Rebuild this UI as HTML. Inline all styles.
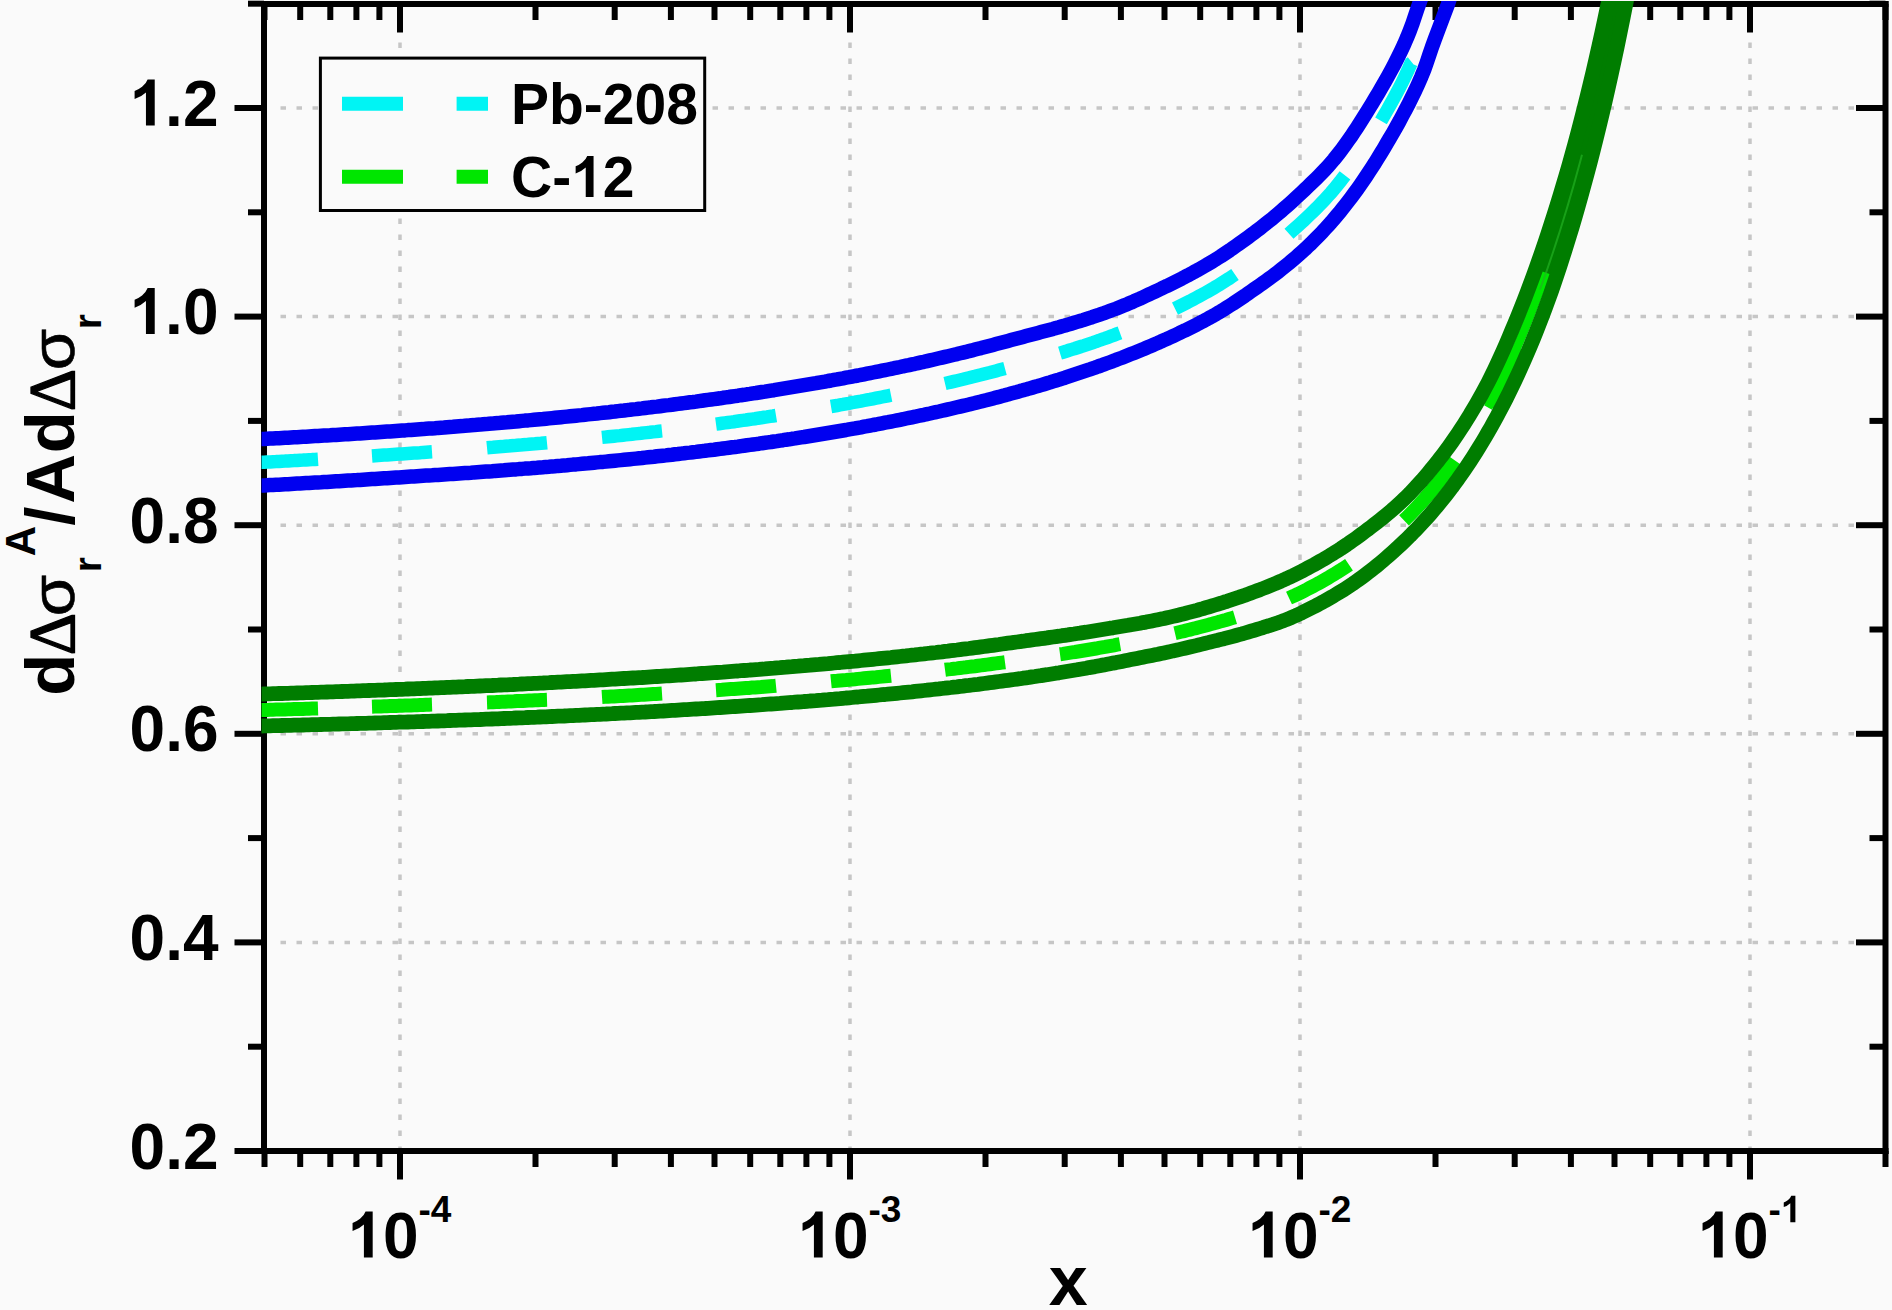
<!DOCTYPE html>
<html><head><meta charset="utf-8"><title>chart</title>
<style>html,body{margin:0;padding:0;background:#fafafa;}body{width:1892px;height:1310px;overflow:hidden;font-family:"Liberation Sans",sans-serif;}</style>
</head><body>
<svg width="1892" height="1310" viewBox="0 0 1892 1310" style="display:block">
<rect width="1892" height="1310" fill="#fafafa"/>
<defs><clipPath id="cp"><rect x="261.5" y="1.0" width="1626.5" height="1150.0"/></clipPath>
<path id="g1" d="M806,0 H525 V1059 Q371,915 162,846 V1101 Q272,1137 401,1237.5 Q530,1338 578,1472 H806 Z"/>
</defs>
<g stroke="#c6c6c6" stroke-width="3.5" fill="none">
<path d="M280.5,942.4 H1885.5" stroke-dasharray="5.5 10.5"/>
<path d="M280.5,733.8 H1885.5" stroke-dasharray="5.5 10.5"/>
<path d="M280.5,525.2 H1885.5" stroke-dasharray="5.5 10.5"/>
<path d="M280.5,316.6 H1885.5" stroke-dasharray="5.5 10.5"/>
<path d="M280.5,108.0 H1885.5" stroke-dasharray="5.5 10.5"/>
<path d="M400.0,42.5 V1151.0" stroke-dasharray="5.5 10.5"/>
<path d="M850.0,42.5 V1151.0" stroke-dasharray="5.5 10.5"/>
<path d="M1300.0,42.5 V1151.0" stroke-dasharray="5.5 10.5"/>
<path d="M1750.0,42.5 V1151.0" stroke-dasharray="5.5 10.5"/>
</g>
<g stroke="#000" stroke-width="6.0" fill="none" stroke-linecap="butt">
<path d="M264.0,1.0 V1154.0"/>
<path d="M1885.5,1.0 V1154.0"/>
<path d="M261.0,4.0 H1888.5"/>
<path d="M261.0,1151.0 H1888.5"/>
<path d="M234.5,1151.0 H264.0"/>
<path d="M1856.0,1151.0 H1885.5"/>
<path d="M248.0,1046.7 H264.0"/>
<path d="M1869.5,1046.7 H1885.5"/>
<path d="M234.5,942.4 H264.0"/>
<path d="M1856.0,942.4 H1885.5"/>
<path d="M248.0,838.1 H264.0"/>
<path d="M1869.5,838.1 H1885.5"/>
<path d="M234.5,733.8 H264.0"/>
<path d="M1856.0,733.8 H1885.5"/>
<path d="M248.0,629.5 H264.0"/>
<path d="M1869.5,629.5 H1885.5"/>
<path d="M234.5,525.2 H264.0"/>
<path d="M1856.0,525.2 H1885.5"/>
<path d="M248.0,420.9 H264.0"/>
<path d="M1869.5,420.9 H1885.5"/>
<path d="M234.5,316.6 H264.0"/>
<path d="M1856.0,316.6 H1885.5"/>
<path d="M248.0,212.3 H264.0"/>
<path d="M1869.5,212.3 H1885.5"/>
<path d="M234.5,108.0 H264.0"/>
<path d="M1856.0,108.0 H1885.5"/>
<path d="M248.0,3.7 H264.0"/>
<path d="M1869.5,3.7 H1885.5"/>
<path d="M264.5,1151.0 V1167.0"/>
<path d="M264.5,4.0 V20.0"/>
<path d="M300.2,1151.0 V1167.0"/>
<path d="M300.2,4.0 V20.0"/>
<path d="M330.3,1151.0 V1167.0"/>
<path d="M330.3,4.0 V20.0"/>
<path d="M356.4,1151.0 V1167.0"/>
<path d="M356.4,4.0 V20.0"/>
<path d="M379.4,1151.0 V1167.0"/>
<path d="M379.4,4.0 V20.0"/>
<path d="M400.0,1151.0 V1179.5"/>
<path d="M400.0,4.0 V32.5"/>
<path d="M535.5,1151.0 V1167.0"/>
<path d="M535.5,4.0 V20.0"/>
<path d="M614.7,1151.0 V1167.0"/>
<path d="M614.7,4.0 V20.0"/>
<path d="M670.9,1151.0 V1167.0"/>
<path d="M670.9,4.0 V20.0"/>
<path d="M714.5,1151.0 V1167.0"/>
<path d="M714.5,4.0 V20.0"/>
<path d="M750.2,1151.0 V1167.0"/>
<path d="M750.2,4.0 V20.0"/>
<path d="M780.3,1151.0 V1167.0"/>
<path d="M780.3,4.0 V20.0"/>
<path d="M806.4,1151.0 V1167.0"/>
<path d="M806.4,4.0 V20.0"/>
<path d="M829.4,1151.0 V1167.0"/>
<path d="M829.4,4.0 V20.0"/>
<path d="M850.0,1151.0 V1179.5"/>
<path d="M850.0,4.0 V32.5"/>
<path d="M985.5,1151.0 V1167.0"/>
<path d="M985.5,4.0 V20.0"/>
<path d="M1064.7,1151.0 V1167.0"/>
<path d="M1064.7,4.0 V20.0"/>
<path d="M1120.9,1151.0 V1167.0"/>
<path d="M1120.9,4.0 V20.0"/>
<path d="M1164.5,1151.0 V1167.0"/>
<path d="M1164.5,4.0 V20.0"/>
<path d="M1200.2,1151.0 V1167.0"/>
<path d="M1200.2,4.0 V20.0"/>
<path d="M1230.3,1151.0 V1167.0"/>
<path d="M1230.3,4.0 V20.0"/>
<path d="M1256.4,1151.0 V1167.0"/>
<path d="M1256.4,4.0 V20.0"/>
<path d="M1279.4,1151.0 V1167.0"/>
<path d="M1279.4,4.0 V20.0"/>
<path d="M1300.0,1151.0 V1179.5"/>
<path d="M1300.0,4.0 V32.5"/>
<path d="M1435.5,1151.0 V1167.0"/>
<path d="M1435.5,4.0 V20.0"/>
<path d="M1514.7,1151.0 V1167.0"/>
<path d="M1514.7,4.0 V20.0"/>
<path d="M1570.9,1151.0 V1167.0"/>
<path d="M1570.9,4.0 V20.0"/>
<path d="M1614.5,1151.0 V1167.0"/>
<path d="M1614.5,4.0 V20.0"/>
<path d="M1650.2,1151.0 V1167.0"/>
<path d="M1650.2,4.0 V20.0"/>
<path d="M1680.3,1151.0 V1167.0"/>
<path d="M1680.3,4.0 V20.0"/>
<path d="M1706.4,1151.0 V1167.0"/>
<path d="M1706.4,4.0 V20.0"/>
<path d="M1729.4,1151.0 V1167.0"/>
<path d="M1729.4,4.0 V20.0"/>
<path d="M1750.0,1151.0 V1179.5"/>
<path d="M1750.0,4.0 V32.5"/>
<path d="M1885.5,1151.0 V1167.0"/>
<path d="M1885.5,4.0 V20.0"/>
</g>
<g stroke="#00f4f4" stroke-width="13.5" fill="none" stroke-linecap="butt" clip-path="url(#cp)"><path d="M258.0,462.5 L261.0,462.3 L264.0,462.2 L267.0,462.0 L270.0,461.9 L273.0,461.7 L276.0,461.6 L279.0,461.4 L282.0,461.2 L285.0,461.1 L288.0,460.9 L291.0,460.7 L294.0,460.6 L297.0,460.4 L300.0,460.2 L303.0,460.1 L306.0,459.9 L309.0,459.7 L312.0,459.6 L315.0,459.4 L318.0,459.2 L318.0,459.2"/><path d="M372.0,455.9 L375.0,455.7 L378.0,455.5 L381.0,455.3 L384.0,455.1 L387.0,454.9 L390.0,454.7 L393.0,454.5 L396.0,454.3 L399.0,454.1 L402.0,453.9 L405.0,453.7 L408.0,453.5 L411.0,453.3 L414.0,453.1 L417.0,452.9 L420.0,452.7 L423.0,452.4 L426.0,452.2 L429.0,452.0 L432.0,451.8 L432.0,451.8"/><path d="M487.0,447.8 L490.0,447.5 L493.0,447.3 L496.0,447.0 L499.0,446.8 L502.0,446.6 L505.0,446.3 L508.0,446.1 L511.0,445.8 L514.0,445.6 L517.0,445.3 L520.0,445.1 L523.0,444.8 L526.0,444.6 L529.0,444.3 L532.0,444.0 L535.0,443.8 L538.0,443.5 L541.0,443.3 L544.0,443.0 L547.0,442.7 L547.0,442.7"/><path d="M602.0,437.4 L605.0,437.1 L608.0,436.8 L611.0,436.5 L614.0,436.2 L617.0,435.9 L620.0,435.6 L623.0,435.2 L626.0,434.9 L629.0,434.6 L632.0,434.3 L635.0,433.9 L638.0,433.6 L641.0,433.3 L644.0,432.9 L647.0,432.6 L650.0,432.3 L653.0,431.9 L656.0,431.6 L659.0,431.2 L662.0,430.9 L662.0,430.9"/><path d="M716.0,424.1 L719.0,423.7 L722.0,423.3 L725.0,422.9 L728.0,422.5 L731.0,422.1 L734.0,421.7 L737.0,421.2 L740.0,420.8 L743.0,420.4 L746.0,420.0 L749.0,419.5 L752.0,419.1 L755.0,418.7 L758.0,418.2 L761.0,417.8 L764.0,417.3 L767.0,416.9 L770.0,416.4 L773.0,416.0 L776.0,415.5 L776.0,415.5"/><path d="M831.0,406.5 L834.0,406.0 L837.0,405.5 L840.0,404.9 L843.0,404.4 L846.0,403.8 L849.0,403.3 L852.0,402.7 L855.0,402.2 L858.0,401.6 L861.0,401.1 L864.0,400.5 L867.0,399.9 L870.0,399.4 L873.0,398.8 L876.0,398.2 L879.0,397.6 L882.0,397.0 L885.0,396.4 L888.0,395.8 L891.0,395.2 L891.0,395.2"/><path d="M945.0,383.5 L948.0,382.8 L951.0,382.1 L954.0,381.4 L957.0,380.7 L960.0,380.0 L963.0,379.3 L966.0,378.5 L969.0,377.8 L972.0,377.0 L975.0,376.3 L978.0,375.5 L981.0,374.8 L984.0,374.0 L987.0,373.2 L990.0,372.5 L993.0,371.7 L996.0,370.9 L999.0,370.1 L1002.0,369.3 L1005.0,368.5 L1005.0,368.5"/><path d="M1060.0,353.1 L1063.0,352.2 L1066.0,351.3 L1069.0,350.3 L1072.0,349.4 L1075.0,348.5 L1078.0,347.5 L1081.0,346.5 L1084.0,345.6 L1087.0,344.6 L1090.0,343.6 L1093.0,342.6 L1096.0,341.5 L1099.0,340.5 L1102.0,339.4 L1105.0,338.4 L1108.0,337.3 L1111.0,336.2 L1114.0,335.1 L1117.0,333.9 L1120.0,332.8 L1120.0,332.8"/><path d="M1175.0,308.6 L1178.0,307.1 L1181.0,305.6 L1184.0,304.1 L1187.0,302.6 L1190.0,301.1 L1193.0,299.5 L1196.0,297.9 L1199.0,296.3 L1202.0,294.7 L1205.0,293.0 L1208.0,291.3 L1211.0,289.6 L1214.0,287.9 L1217.0,286.1 L1220.0,284.2 L1223.0,282.4 L1226.0,280.4 L1229.0,278.5 L1232.0,276.5 L1235.0,274.5 L1235.0,274.5"/><path d="M1289.0,233.7 L1292.0,231.0 L1295.0,228.4 L1298.0,225.7 L1301.0,223.0 L1304.0,220.2 L1307.0,217.4 L1310.0,214.5 L1313.0,211.6 L1316.0,208.7 L1319.0,205.6 L1322.0,202.5 L1325.0,199.3 L1328.0,196.0 L1331.0,192.7 L1334.0,189.2 L1337.0,185.5 L1340.0,181.8 L1343.0,177.9 L1345.0,175.3"/><path d="M1381.0,120.8 L1384.0,115.7 L1387.0,110.5 L1390.0,105.2 L1393.0,99.8 L1396.0,94.3 L1399.0,88.6 L1402.0,82.7 L1405.0,76.6 L1408.0,70.2 L1411.0,63.3 L1412.0,62.5"/></g>
<g stroke="#00e600" stroke-width="14" fill="none" stroke-linecap="butt" clip-path="url(#cp)"><path d="M258.0,710.1 L261.0,710.0 L264.0,710.0 L267.0,709.9 L270.0,709.8 L273.0,709.7 L276.0,709.6 L279.0,709.6 L282.0,709.5 L285.0,709.4 L288.0,709.3 L291.0,709.2 L294.0,709.1 L297.0,709.1 L300.0,709.0 L303.0,708.9 L306.0,708.8 L309.0,708.7 L312.0,708.6 L315.0,708.5 L318.0,708.4 L318.0,708.4"/><path d="M372.0,706.7 L375.0,706.6 L378.0,706.5 L381.0,706.4 L384.0,706.3 L387.0,706.2 L390.0,706.1 L393.0,706.0 L396.0,705.9 L399.0,705.8 L402.0,705.7 L405.0,705.6 L408.0,705.5 L411.0,705.4 L414.0,705.3 L417.0,705.2 L420.0,705.1 L423.0,705.0 L426.0,704.8 L429.0,704.7 L432.0,704.6 L432.0,704.6"/><path d="M487.0,702.4 L490.0,702.3 L493.0,702.2 L496.0,702.1 L499.0,701.9 L502.0,701.8 L505.0,701.7 L508.0,701.5 L511.0,701.4 L514.0,701.3 L517.0,701.1 L520.0,701.0 L523.0,700.9 L526.0,700.7 L529.0,700.6 L532.0,700.5 L535.0,700.3 L538.0,700.2 L541.0,700.0 L544.0,699.9 L547.0,699.8 L547.0,699.8"/><path d="M602.0,697.0 L605.0,696.8 L608.0,696.7 L611.0,696.5 L614.0,696.4 L617.0,696.2 L620.0,696.0 L623.0,695.9 L626.0,695.7 L629.0,695.5 L632.0,695.4 L635.0,695.2 L638.0,695.0 L641.0,694.8 L644.0,694.7 L647.0,694.5 L650.0,694.3 L653.0,694.1 L656.0,694.0 L659.0,693.8 L662.0,693.6 L662.0,693.6"/><path d="M716.0,690.2 L719.0,690.0 L722.0,689.8 L725.0,689.5 L728.0,689.3 L731.0,689.1 L734.0,688.9 L737.0,688.7 L740.0,688.5 L743.0,688.3 L746.0,688.1 L749.0,687.9 L752.0,687.6 L755.0,687.4 L758.0,687.2 L761.0,687.0 L764.0,686.7 L767.0,686.5 L770.0,686.3 L773.0,686.1 L776.0,685.8 L776.0,685.8"/><path d="M831.0,681.3 L834.0,681.0 L837.0,680.8 L840.0,680.5 L843.0,680.2 L846.0,680.0 L849.0,679.7 L852.0,679.4 L855.0,679.2 L858.0,678.9 L861.0,678.6 L864.0,678.3 L867.0,678.0 L870.0,677.7 L873.0,677.4 L876.0,677.2 L879.0,676.9 L882.0,676.6 L885.0,676.3 L888.0,676.0 L891.0,675.7 L891.0,675.7"/><path d="M945.0,669.8 L948.0,669.4 L951.0,669.1 L954.0,668.7 L957.0,668.4 L960.0,668.0 L963.0,667.6 L966.0,667.3 L969.0,666.9 L972.0,666.5 L975.0,666.2 L978.0,665.8 L981.0,665.4 L984.0,665.0 L987.0,664.6 L990.0,664.2 L993.0,663.8 L996.0,663.4 L999.0,663.0 L1002.0,662.6 L1005.0,662.2 L1005.0,662.2"/><path d="M1060.0,654.3 L1063.0,653.9 L1066.0,653.4 L1069.0,652.9 L1072.0,652.4 L1075.0,652.0 L1078.0,651.5 L1081.0,651.0 L1084.0,650.5 L1087.0,650.0 L1090.0,649.5 L1093.0,649.0 L1096.0,648.5 L1099.0,647.9 L1102.0,647.4 L1105.0,646.9 L1108.0,646.3 L1111.0,645.8 L1114.0,645.3 L1117.0,644.7 L1120.0,644.2 L1120.0,644.2"/><path d="M1175.0,633.2 L1178.0,632.5 L1181.0,631.8 L1184.0,631.1 L1187.0,630.3 L1190.0,629.6 L1193.0,628.8 L1196.0,628.1 L1199.0,627.3 L1202.0,626.5 L1205.0,625.7 L1208.0,624.9 L1211.0,624.1 L1214.0,623.2 L1217.0,622.4 L1220.0,621.6 L1223.0,620.7 L1226.0,619.9 L1229.0,619.0 L1232.0,618.1 L1235.0,617.2 L1235.0,617.2"/><path d="M1289.0,598.0 L1292.0,596.6 L1295.0,595.3 L1298.0,593.9 L1301.0,592.4 L1304.0,590.9 L1307.0,589.4 L1310.0,587.8 L1313.0,586.2 L1316.0,584.6 L1319.0,583.0 L1322.0,581.3 L1325.0,579.6 L1328.0,577.9 L1331.0,576.1 L1334.0,574.3 L1337.0,572.4 L1340.0,570.6 L1343.0,568.7 L1346.0,566.7 L1349.0,564.7 L1349.0,564.7"/><path d="M1404.0,520.4 L1407.0,517.5 L1410.0,514.5 L1413.0,511.4 L1416.0,508.2 L1419.0,505.0 L1422.0,501.7 L1425.0,498.4 L1428.0,494.9 L1431.0,491.4 L1434.0,487.9 L1437.0,484.2 L1440.0,480.5 L1443.0,476.6 L1446.0,472.7 L1449.0,468.8 L1452.0,464.7 L1455.0,460.5 L1455.0,460.5"/><path d="M1489.0,405.6 L1492.0,400.0 L1495.0,394.2 L1498.0,388.2 L1501.0,382.1 L1504.0,375.8 L1507.0,369.4 L1510.0,362.8 L1513.0,356.2 L1516.0,349.4 L1517.0,347.2"/><path d="M1540.0,289.5 L1543.0,281.2 L1546.0,272.8 L1549.0,264.1 L1552.0,255.2 L1555.0,246.2 L1558.0,236.9 L1559.0,233.8"/><path d="M1576.0,176.7 L1579.0,165.9 L1582.0,154.7 L1585.0,143.3 L1588.0,131.7 L1591.0,119.7 L1591.0,119.7"/><path d="M1605.0,60.0 L1608.0,46.3 L1611.0,32.3 L1614.0,17.8 L1617.0,3.1 L1617.0,3.1"/><path d="M1628.0,-54.3 L1631.0,-70.9 L1634.0,-87.9 L1637.0,-105.3 L1638.0,-111.2"/></g>
<path d="M1540.0,289.5 L1542.0,284.0 L1544.0,278.4 L1546.0,272.8 L1548.0,267.0 L1550.0,261.2 L1552.0,255.2 L1554.0,249.2 L1556.0,243.1 L1558.0,236.9 L1560.0,230.7 L1562.0,224.3 L1564.0,217.8 L1566.0,211.2 L1568.0,204.6 L1570.0,197.8 L1572.0,190.9 L1574.0,183.9 L1576.0,176.7 L1578.0,169.5 L1580.0,162.2 L1582.0,154.7 L1584.0,147.2 L1586.0,139.5 L1588.0,131.7 L1590.0,123.7 L1592.0,115.7 L1594.0,107.5 L1596.0,99.2 L1598.0,90.7 L1600.0,82.1 L1602.0,73.4 L1604.0,64.5 L1606.0,55.5 L1608.0,46.3 L1610.0,37.0 L1612.0,27.5 L1614.0,17.8 L1616.0,8.0 L1618.0,-1.9 L1620.0,-12.1 L1622.0,-22.4 L1624.0,-32.8 L1626.0,-43.5 L1628.0,-54.3 L1630.0,-65.3 L1632.0,-76.5 L1634.0,-87.9 L1636.0,-99.5 L1638.0,-111.2 L1640.0,-123.2" stroke="#007d00" stroke-width="10" fill="none" clip-path="url(#cp)"/>
<path d="M1488.0,407.5 L1490.0,403.8 L1492.0,400.0 L1494.0,396.1 L1496.0,392.2 L1498.0,388.2 L1500.0,384.1 L1502.0,380.0 L1504.0,375.8 L1506.0,371.5 L1508.0,367.2 L1510.0,362.8 L1512.0,358.4 L1514.0,354.0 L1516.0,349.4 L1518.0,344.9 L1520.0,340.2 L1522.0,335.5 L1524.0,330.7 L1526.0,325.8 L1528.0,320.8 L1530.0,315.8 L1532.0,310.7 L1534.0,305.5 L1536.0,300.2 L1538.0,294.9 L1540.0,289.5 L1542.0,284.0 L1544.0,278.4 L1546.0,272.8" stroke="#00e600" stroke-width="9" fill="none" clip-path="url(#cp)"/>
<path d="M258.0,439.3 L261.0,439.1 L264.0,439.0 L267.0,438.8 L270.0,438.6 L273.0,438.5 L276.0,438.3 L279.0,438.2 L282.0,438.0 L285.0,437.8 L288.0,437.7 L291.0,437.5 L294.0,437.3 L297.0,437.2 L300.0,437.0 L303.0,436.8 L306.0,436.7 L309.0,436.5 L312.0,436.3 L315.0,436.1 L318.0,436.0 L321.0,435.8 L324.0,435.6 L327.0,435.4 L330.0,435.3 L333.0,435.1 L336.0,434.9 L339.0,434.7 L342.0,434.5 L345.0,434.3 L348.0,434.2 L351.0,434.0 L354.0,433.8 L357.0,433.6 L360.0,433.4 L363.0,433.2 L366.0,433.0 L369.0,432.8 L372.0,432.6 L375.0,432.4 L378.0,432.2 L381.0,432.0 L384.0,431.8 L387.0,431.6 L390.0,431.4 L393.0,431.2 L396.0,431.0 L399.0,430.8 L402.0,430.6 L405.0,430.4 L408.0,430.1 L411.0,429.9 L414.0,429.7 L417.0,429.5 L420.0,429.3 L423.0,429.1 L426.0,428.8 L429.0,428.6 L432.0,428.4 L435.0,428.2 L438.0,427.9 L441.0,427.7 L444.0,427.5 L447.0,427.2 L450.0,427.0 L453.0,426.8 L456.0,426.5 L459.0,426.3 L462.0,426.1 L465.0,425.8 L468.0,425.6 L471.0,425.3 L474.0,425.1 L477.0,424.8 L480.0,424.6 L483.0,424.3 L486.0,424.1 L489.0,423.8 L492.0,423.6 L495.0,423.3 L498.0,423.1 L501.0,422.8 L504.0,422.5 L507.0,422.3 L510.0,422.0 L513.0,421.7 L516.0,421.5 L519.0,421.2 L522.0,420.9 L525.0,420.6 L528.0,420.4 L531.0,420.1 L534.0,419.8 L537.0,419.5 L540.0,419.2 L543.0,419.0 L546.0,418.7 L549.0,418.4 L552.0,418.1 L555.0,417.8 L558.0,417.5 L561.0,417.2 L564.0,416.9 L567.0,416.6 L570.0,416.3 L573.0,416.0 L576.0,415.7 L579.0,415.4 L582.0,415.1 L585.0,414.7 L588.0,414.4 L591.0,414.1 L594.0,413.8 L597.0,413.5 L600.0,413.1 L603.0,412.8 L606.0,412.5 L609.0,412.2 L612.0,411.8 L615.0,411.5 L618.0,411.1 L621.0,410.8 L624.0,410.5 L627.0,410.1 L630.0,409.8 L633.0,409.4 L636.0,409.1 L639.0,408.7 L642.0,408.4 L645.0,408.0 L648.0,407.6 L651.0,407.3 L654.0,406.9 L657.0,406.6 L660.0,406.2 L663.0,405.8 L666.0,405.4 L669.0,405.1 L672.0,404.7 L675.0,404.3 L678.0,403.9 L681.0,403.5 L684.0,403.1 L687.0,402.7 L690.0,402.3 L693.0,402.0 L696.0,401.6 L699.0,401.1 L702.0,400.7 L705.0,400.3 L708.0,399.9 L711.0,399.5 L714.0,399.1 L717.0,398.7 L720.0,398.3 L723.0,397.8 L726.0,397.4 L729.0,397.0 L732.0,396.5 L735.0,396.1 L738.0,395.7 L741.0,395.2 L744.0,394.8 L747.0,394.3 L750.0,393.9 L753.0,393.4 L756.0,393.0 L759.0,392.5 L762.0,392.0 L765.0,391.6 L768.0,391.1 L771.0,390.6 L774.0,390.2 L777.0,389.7 L780.0,389.2 L783.0,388.7 L786.0,388.2 L789.0,387.7 L792.0,387.2 L795.0,386.7 L798.0,386.2 L801.0,385.7 L804.0,385.2 L807.0,384.7 L810.0,384.2 L813.0,383.7 L816.0,383.2 L819.0,382.6 L822.0,382.1 L825.0,381.6 L828.0,381.0 L831.0,380.5 L834.0,379.9 L837.0,379.4 L840.0,378.8 L843.0,378.3 L846.0,377.7 L849.0,377.2 L852.0,376.6 L855.0,376.0 L858.0,375.5 L861.0,374.9 L864.0,374.3 L867.0,373.7 L870.0,373.1 L873.0,372.5 L876.0,371.9 L879.0,371.3 L882.0,370.7 L885.0,370.1 L888.0,369.5 L891.0,368.9 L894.0,368.2 L897.0,367.6 L900.0,367.0 L903.0,366.3 L906.0,365.7 L909.0,365.1 L912.0,364.4 L915.0,363.8 L918.0,363.1 L921.0,362.4 L924.0,361.8 L927.0,361.1 L930.0,360.4 L933.0,359.7 L936.0,359.0 L939.0,358.3 L942.0,357.6 L945.0,356.9 L948.0,356.2 L951.0,355.5 L954.0,354.8 L957.0,354.1 L960.0,353.3 L963.0,352.6 L966.0,351.9 L969.0,351.1 L972.0,350.4 L975.0,349.6 L978.0,348.8 L981.0,348.1 L984.0,347.3 L987.0,346.5 L990.0,345.7 L993.0,344.9 L996.0,344.1 L999.0,343.3 L1002.0,342.5 L1005.0,341.7 L1008.0,340.9 L1011.0,340.1 L1014.0,339.3 L1017.0,338.5 L1020.0,337.7 L1023.0,336.9 L1026.0,336.1 L1029.0,335.3 L1032.0,334.5 L1035.0,333.7 L1038.0,332.9 L1041.0,332.1 L1044.0,331.3 L1047.0,330.5 L1050.0,329.7 L1053.0,328.9 L1056.0,328.0 L1059.0,327.2 L1062.0,326.3 L1065.0,325.5 L1068.0,324.6 L1071.0,323.7 L1074.0,322.8 L1077.0,321.9 L1080.0,321.0 L1083.0,320.1 L1086.0,319.1 L1089.0,318.1 L1092.0,317.2 L1095.0,316.2 L1098.0,315.2 L1101.0,314.1 L1104.0,313.1 L1107.0,312.0 L1110.0,310.9 L1113.0,309.8 L1116.0,308.7 L1119.0,307.5 L1122.0,306.3 L1125.0,305.1 L1128.0,303.8 L1131.0,302.6 L1134.0,301.2 L1137.0,299.9 L1140.0,298.6 L1143.0,297.2 L1146.0,295.8 L1149.0,294.4 L1152.0,293.0 L1155.0,291.6 L1158.0,290.2 L1161.0,288.8 L1164.0,287.3 L1167.0,285.9 L1170.0,284.4 L1173.0,282.9 L1176.0,281.4 L1179.0,279.9 L1182.0,278.4 L1185.0,276.8 L1188.0,275.3 L1191.0,273.7 L1194.0,272.0 L1197.0,270.4 L1200.0,268.7 L1203.0,267.0 L1206.0,265.3 L1209.0,263.5 L1212.0,261.7 L1215.0,259.9 L1218.0,258.0 L1221.0,256.1 L1224.0,254.1 L1227.0,252.1 L1230.0,250.1 L1233.0,248.0 L1236.0,245.9 L1239.0,243.8 L1242.0,241.6 L1245.0,239.5 L1248.0,237.3 L1251.0,235.0 L1254.0,232.8 L1257.0,230.5 L1260.0,228.3 L1263.0,225.9 L1266.0,223.6 L1269.0,221.2 L1272.0,218.8 L1275.0,216.3 L1278.0,213.8 L1281.0,211.2 L1284.0,208.6 L1287.0,206.0 L1290.0,203.3 L1293.0,200.6 L1296.0,197.8 L1299.0,195.0 L1302.0,192.2 L1305.0,189.4 L1307.9,186.6 L1310.8,183.8 L1313.7,181.0 L1316.6,178.2 L1319.4,175.4 L1322.3,172.4 L1325.2,169.4 L1328.0,166.3 L1330.9,163.0 L1333.8,159.6 L1336.6,156.1 L1339.6,152.4 L1342.5,148.5 L1345.4,144.5 L1348.3,140.4 L1351.3,136.2 L1354.2,131.8 L1357.1,127.4 L1360.1,122.8 L1363.0,118.2 L1366.0,113.4 L1369.0,108.5 L1372.1,103.4 L1375.2,98.2 L1378.4,92.9 L1381.6,87.4 L1384.8,81.8 L1388.1,76.0 L1391.3,70.1 L1394.6,64.0 L1397.7,57.7 L1400.9,51.2 L1404.0,44.6 L1407.0,37.7 L1409.8,30.7 L1412.5,23.5 L1415.0,16.0 L1417.6,8.3 L1420.4,0.4 L1423.4,-7.7 L1426.4,-16.1 L1429.4,-24.8" stroke="#0000f0" stroke-width="14.5" fill="none" stroke-linejoin="round" clip-path="url(#cp)"/>
<path d="M258.0,485.7 L261.0,485.6 L264.0,485.5 L267.0,485.3 L270.0,485.1 L273.0,485.0 L276.0,484.8 L279.0,484.7 L282.0,484.5 L285.0,484.3 L288.0,484.2 L291.0,484.0 L294.0,483.8 L297.0,483.6 L300.0,483.5 L303.0,483.3 L306.0,483.1 L309.0,483.0 L312.0,482.8 L315.0,482.6 L318.0,482.4 L321.0,482.3 L324.0,482.1 L327.0,481.9 L330.0,481.7 L333.0,481.5 L336.0,481.3 L339.0,481.2 L342.0,481.0 L345.0,480.8 L348.0,480.6 L351.0,480.4 L354.0,480.2 L357.0,480.1 L360.0,479.9 L363.0,479.7 L366.0,479.5 L369.0,479.3 L372.0,479.1 L375.0,478.9 L378.0,478.7 L381.0,478.5 L384.0,478.3 L387.0,478.2 L390.0,478.0 L393.0,477.8 L396.0,477.6 L399.0,477.4 L402.0,477.2 L405.0,477.0 L408.0,476.8 L411.0,476.6 L414.0,476.4 L417.0,476.2 L420.0,476.0 L423.0,475.8 L426.0,475.6 L429.0,475.4 L432.0,475.3 L435.0,475.1 L438.0,474.9 L441.0,474.7 L444.0,474.5 L447.0,474.3 L450.0,474.1 L453.0,473.9 L456.0,473.7 L459.0,473.5 L462.0,473.3 L465.0,473.1 L468.0,472.9 L471.0,472.7 L474.0,472.4 L477.0,472.2 L480.0,472.0 L483.0,471.8 L486.0,471.6 L489.0,471.4 L492.0,471.2 L495.0,470.9 L498.0,470.7 L501.0,470.5 L504.0,470.3 L507.0,470.0 L510.0,469.8 L513.0,469.6 L516.0,469.4 L519.0,469.1 L522.0,468.9 L525.0,468.6 L528.0,468.4 L531.0,468.2 L534.0,467.9 L537.0,467.7 L540.0,467.4 L543.0,467.2 L546.0,466.9 L549.0,466.7 L552.0,466.4 L555.0,466.2 L558.0,465.9 L561.0,465.7 L564.0,465.4 L567.0,465.2 L570.0,464.9 L573.0,464.6 L576.0,464.4 L579.0,464.1 L582.0,463.8 L585.0,463.5 L588.0,463.3 L591.0,463.0 L594.0,462.7 L597.0,462.4 L600.0,462.1 L603.0,461.9 L606.0,461.6 L609.0,461.3 L612.0,461.0 L615.0,460.7 L618.0,460.4 L621.0,460.1 L624.0,459.8 L627.0,459.5 L630.0,459.2 L633.0,458.9 L636.0,458.6 L639.0,458.3 L642.0,458.0 L645.0,457.6 L648.0,457.3 L651.0,457.0 L654.0,456.7 L657.0,456.3 L660.0,456.0 L663.0,455.7 L666.0,455.4 L669.0,455.0 L672.0,454.7 L675.0,454.3 L678.0,454.0 L681.0,453.6 L684.0,453.3 L687.0,452.9 L690.0,452.6 L693.0,452.2 L696.0,451.9 L699.0,451.5 L702.0,451.1 L705.0,450.8 L708.0,450.4 L711.0,450.0 L714.0,449.7 L717.0,449.3 L720.0,448.9 L723.0,448.5 L726.0,448.1 L729.0,447.7 L732.0,447.3 L735.0,447.0 L738.0,446.6 L741.0,446.1 L744.0,445.7 L747.0,445.3 L750.0,444.9 L753.0,444.5 L756.0,444.1 L759.0,443.7 L762.0,443.2 L765.0,442.8 L768.0,442.4 L771.0,442.0 L774.0,441.5 L777.0,441.1 L780.0,440.6 L783.0,440.2 L786.0,439.7 L789.0,439.3 L792.0,438.8 L795.0,438.4 L798.0,437.9 L801.0,437.4 L804.0,437.0 L807.0,436.5 L810.0,436.0 L813.0,435.5 L816.0,435.0 L819.0,434.5 L822.0,434.0 L825.0,433.5 L828.0,433.0 L831.0,432.5 L834.0,432.0 L837.0,431.5 L840.0,431.0 L843.0,430.5 L846.0,430.0 L849.0,429.4 L852.0,428.9 L855.0,428.4 L858.0,427.8 L861.0,427.3 L864.0,426.7 L867.0,426.2 L870.0,425.6 L873.0,425.0 L876.0,424.5 L879.0,423.9 L882.0,423.3 L885.0,422.7 L888.0,422.2 L891.0,421.6 L894.0,421.0 L897.0,420.4 L900.0,419.8 L903.0,419.2 L906.0,418.5 L909.0,417.9 L912.0,417.3 L915.0,416.7 L918.0,416.0 L921.0,415.4 L924.0,414.8 L927.0,414.1 L930.0,413.5 L933.0,412.8 L936.0,412.1 L939.0,411.5 L942.0,410.8 L945.0,410.1 L948.0,409.4 L951.0,408.7 L954.0,408.0 L957.0,407.3 L960.0,406.6 L963.0,405.9 L966.0,405.2 L969.0,404.5 L972.0,403.7 L975.0,403.0 L978.0,402.2 L981.0,401.5 L984.0,400.7 L987.0,400.0 L990.0,399.2 L993.0,398.4 L996.0,397.6 L999.0,396.9 L1002.0,396.1 L1005.0,395.3 L1008.0,394.4 L1011.0,393.6 L1014.0,392.8 L1017.0,392.0 L1020.0,391.1 L1023.0,390.3 L1026.0,389.4 L1029.0,388.6 L1032.0,387.7 L1035.0,386.8 L1038.0,386.0 L1041.0,385.1 L1044.0,384.2 L1047.0,383.3 L1050.0,382.4 L1053.0,381.4 L1056.0,380.5 L1059.0,379.6 L1062.0,378.6 L1065.0,377.7 L1068.0,376.7 L1071.0,375.7 L1074.0,374.7 L1077.0,373.7 L1080.0,372.7 L1083.0,371.7 L1086.0,370.7 L1089.0,369.7 L1092.0,368.6 L1095.0,367.6 L1098.0,366.5 L1101.0,365.5 L1104.0,364.4 L1107.0,363.3 L1110.0,362.2 L1113.0,361.1 L1116.0,359.9 L1119.0,358.8 L1122.0,357.7 L1125.0,356.5 L1128.0,355.3 L1131.0,354.1 L1134.0,352.9 L1137.0,351.7 L1140.0,350.5 L1143.0,349.3 L1146.0,348.0 L1149.0,346.7 L1152.0,345.5 L1155.0,344.2 L1158.0,342.9 L1161.0,341.5 L1164.0,340.2 L1167.0,338.9 L1170.0,337.5 L1173.0,336.1 L1176.0,334.7 L1179.0,333.3 L1182.0,331.8 L1185.0,330.4 L1188.0,328.9 L1191.0,327.4 L1194.0,325.9 L1197.0,324.4 L1200.0,322.8 L1203.0,321.3 L1206.0,319.7 L1209.0,318.0 L1212.0,316.4 L1215.0,314.7 L1218.0,312.9 L1221.0,311.2 L1224.0,309.3 L1227.0,307.4 L1230.0,305.5 L1233.0,303.6 L1236.0,301.6 L1239.0,299.6 L1242.0,297.6 L1245.0,295.6 L1248.0,293.5 L1251.0,291.4 L1254.0,289.3 L1257.0,287.2 L1260.0,285.1 L1263.0,283.0 L1266.0,280.9 L1269.0,278.7 L1272.0,276.5 L1275.0,274.2 L1278.0,271.9 L1281.0,269.6 L1284.0,267.2 L1287.0,264.7 L1290.0,262.3 L1293.0,259.7 L1296.0,257.2 L1299.0,254.6 L1302.0,251.9 L1305.0,249.2 L1307.9,246.4 L1310.9,243.6 L1313.8,240.7 L1316.8,237.7 L1319.7,234.7 L1322.6,231.7 L1325.5,228.5 L1328.4,225.3 L1331.3,222.1 L1334.2,218.7 L1337.1,215.3 L1340.0,211.8 L1342.8,208.3 L1345.7,204.6 L1348.6,200.9 L1351.5,197.1 L1354.4,193.2 L1357.3,189.2 L1360.2,185.1 L1363.1,180.9 L1366.0,176.6 L1369.0,172.1 L1371.9,167.6 L1374.9,163.0 L1377.8,158.3 L1380.8,153.4 L1383.8,148.4 L1386.8,143.3 L1389.9,138.0 L1393.1,132.6 L1396.2,127.1 L1399.4,121.4 L1402.5,115.5 L1405.7,109.5 L1408.9,103.3 L1412.0,97.0 L1415.2,90.5 L1418.3,83.7 L1421.3,76.8 L1424.2,69.7 L1426.8,62.4 L1429.3,54.9 L1431.9,47.2 L1434.8,39.2 L1437.9,31.0 L1441.1,22.5 L1444.4,13.8 L1447.7,4.9 L1450.7,-4.4 L1453.7,-13.9 L1456.7,-23.7 L1459.7,-33.9" stroke="#0000f0" stroke-width="14.5" fill="none" stroke-linejoin="round" clip-path="url(#cp)"/>
<path d="M258.0,694.2 L261.0,694.1 L264.0,694.0 L267.0,693.9 L270.0,693.8 L273.0,693.7 L276.0,693.6 L279.0,693.5 L282.0,693.5 L285.0,693.4 L288.0,693.3 L291.0,693.2 L294.0,693.1 L297.0,693.0 L300.0,692.9 L303.0,692.8 L306.0,692.7 L309.0,692.6 L312.0,692.5 L315.0,692.4 L318.0,692.3 L321.0,692.2 L324.0,692.1 L327.0,692.0 L330.0,691.9 L333.0,691.8 L336.0,691.7 L339.0,691.6 L342.0,691.5 L345.0,691.4 L348.0,691.3 L351.0,691.2 L354.0,691.1 L357.0,690.9 L360.0,690.8 L363.0,690.7 L366.0,690.6 L369.0,690.5 L372.0,690.4 L375.0,690.3 L378.0,690.2 L381.0,690.1 L384.0,690.0 L387.0,689.8 L390.0,689.7 L393.0,689.6 L396.0,689.5 L399.0,689.4 L402.0,689.3 L405.0,689.2 L408.0,689.0 L411.0,688.9 L414.0,688.8 L417.0,688.7 L420.0,688.6 L423.0,688.4 L426.0,688.3 L429.0,688.2 L432.0,688.1 L435.0,687.9 L438.0,687.8 L441.0,687.7 L444.0,687.6 L447.0,687.4 L450.0,687.3 L453.0,687.2 L456.0,687.1 L459.0,686.9 L462.0,686.8 L465.0,686.7 L468.0,686.5 L471.0,686.4 L474.0,686.3 L477.0,686.1 L480.0,686.0 L483.0,685.9 L486.0,685.7 L489.0,685.6 L492.0,685.5 L495.0,685.3 L498.0,685.2 L501.0,685.0 L504.0,684.9 L507.0,684.8 L510.0,684.6 L513.0,684.5 L516.0,684.3 L519.0,684.2 L522.0,684.0 L525.0,683.9 L528.0,683.7 L531.0,683.6 L534.0,683.4 L537.0,683.3 L540.0,683.1 L543.0,683.0 L546.0,682.8 L549.0,682.7 L552.0,682.5 L555.0,682.4 L558.0,682.2 L561.0,682.1 L564.0,681.9 L567.0,681.7 L570.0,681.6 L573.0,681.4 L576.0,681.3 L579.0,681.1 L582.0,680.9 L585.0,680.8 L588.0,680.6 L591.0,680.4 L594.0,680.3 L597.0,680.1 L600.0,679.9 L603.0,679.8 L606.0,679.6 L609.0,679.4 L612.0,679.2 L615.0,679.1 L618.0,678.9 L621.0,678.7 L624.0,678.5 L627.0,678.4 L630.0,678.2 L633.0,678.0 L636.0,677.8 L639.0,677.6 L642.0,677.5 L645.0,677.3 L648.0,677.1 L651.0,676.9 L654.0,676.7 L657.0,676.5 L660.0,676.3 L663.0,676.1 L666.0,675.9 L669.0,675.8 L672.0,675.6 L675.0,675.4 L678.0,675.2 L681.0,675.0 L684.0,674.8 L687.0,674.6 L690.0,674.4 L693.0,674.2 L696.0,674.0 L699.0,673.7 L702.0,673.5 L705.0,673.3 L708.0,673.1 L711.0,672.9 L714.0,672.7 L717.0,672.5 L720.0,672.3 L723.0,672.1 L726.0,671.8 L729.0,671.6 L732.0,671.4 L735.0,671.2 L738.0,671.0 L741.0,670.7 L744.0,670.5 L747.0,670.3 L750.0,670.0 L753.0,669.8 L756.0,669.6 L759.0,669.4 L762.0,669.1 L765.0,668.9 L768.0,668.6 L771.0,668.4 L774.0,668.2 L777.0,667.9 L780.0,667.7 L783.0,667.4 L786.0,667.2 L789.0,666.9 L792.0,666.7 L795.0,666.4 L798.0,666.2 L801.0,665.9 L804.0,665.7 L807.0,665.4 L810.0,665.2 L813.0,664.9 L816.0,664.6 L819.0,664.4 L822.0,664.1 L825.0,663.8 L828.0,663.6 L831.0,663.3 L834.0,663.0 L837.0,662.7 L840.0,662.5 L843.0,662.2 L846.0,661.9 L849.0,661.6 L852.0,661.3 L855.0,661.1 L858.0,660.8 L861.0,660.5 L864.0,660.2 L867.0,659.9 L870.0,659.6 L873.0,659.3 L876.0,659.0 L879.0,658.7 L882.0,658.4 L885.0,658.1 L888.0,657.8 L891.0,657.5 L894.0,657.1 L897.0,656.8 L900.0,656.5 L903.0,656.2 L906.0,655.9 L909.0,655.5 L912.0,655.2 L915.0,654.9 L918.0,654.5 L921.0,654.2 L924.0,653.9 L927.0,653.5 L930.0,653.2 L933.0,652.8 L936.0,652.5 L939.0,652.1 L942.0,651.8 L945.0,651.4 L948.0,651.1 L951.0,650.7 L954.0,650.3 L957.0,650.0 L960.0,649.6 L963.0,649.2 L966.0,648.8 L969.0,648.5 L972.0,648.1 L975.0,647.7 L978.0,647.3 L981.0,646.9 L984.0,646.5 L987.0,646.1 L990.0,645.7 L993.0,645.3 L996.0,644.9 L999.0,644.5 L1002.0,644.0 L1005.0,643.6 L1008.0,643.2 L1011.0,642.8 L1014.0,642.4 L1017.0,642.0 L1020.0,641.6 L1023.0,641.2 L1026.0,640.7 L1029.0,640.3 L1032.0,639.9 L1035.0,639.5 L1038.0,639.1 L1041.0,638.7 L1044.0,638.3 L1047.0,637.9 L1050.0,637.4 L1053.0,637.0 L1056.0,636.6 L1059.0,636.2 L1062.0,635.7 L1065.0,635.3 L1068.0,634.9 L1071.0,634.4 L1074.0,634.0 L1077.0,633.5 L1080.0,633.1 L1083.0,632.6 L1086.0,632.2 L1089.0,631.7 L1092.0,631.2 L1095.0,630.7 L1098.0,630.2 L1101.0,629.7 L1104.0,629.2 L1107.0,628.7 L1110.0,628.2 L1113.0,627.8 L1116.0,627.3 L1119.0,626.8 L1122.0,626.3 L1125.0,625.8 L1128.0,625.3 L1131.0,624.7 L1134.0,624.2 L1137.0,623.7 L1140.0,623.2 L1143.0,622.6 L1146.0,622.1 L1149.0,621.5 L1152.0,620.9 L1155.0,620.3 L1158.0,619.7 L1161.0,619.1 L1164.0,618.5 L1167.0,617.8 L1170.0,617.1 L1173.0,616.4 L1176.0,615.7 L1179.0,615.0 L1182.0,614.2 L1185.0,613.5 L1188.0,612.7 L1191.0,611.9 L1194.0,611.1 L1197.0,610.3 L1200.0,609.4 L1203.0,608.6 L1206.0,607.7 L1209.0,606.8 L1212.0,605.9 L1215.0,605.0 L1218.0,604.1 L1221.0,603.2 L1224.0,602.2 L1227.0,601.3 L1230.0,600.3 L1233.0,599.3 L1236.0,598.3 L1239.0,597.3 L1242.0,596.2 L1245.0,595.2 L1248.0,594.1 L1251.0,593.0 L1254.0,591.9 L1257.0,590.8 L1260.0,589.7 L1263.0,588.5 L1266.0,587.3 L1269.0,586.1 L1272.0,584.9 L1275.0,583.7 L1278.0,582.4 L1281.0,581.1 L1284.0,579.7 L1287.0,578.4 L1290.0,577.0 L1293.0,575.6 L1296.0,574.1 L1299.0,572.6 L1302.0,571.1 L1305.0,569.5 L1308.0,567.9 L1311.0,566.3 L1314.0,564.7 L1317.0,563.0 L1320.0,561.3 L1323.0,559.6 L1326.0,557.8 L1329.0,556.0 L1332.0,554.2 L1335.0,552.3 L1338.0,550.4 L1341.0,548.5 L1344.0,546.5 L1347.0,544.5 L1350.0,542.4 L1353.0,540.3 L1356.0,538.2 L1359.0,536.0 L1362.0,533.8 L1365.0,531.5 L1368.0,529.3 L1371.0,527.0 L1374.0,524.7 L1377.0,522.4 L1380.0,520.0 L1383.0,517.6 L1386.0,515.1 L1389.0,512.6 L1392.0,510.1 L1395.0,507.4 L1398.0,504.7 L1401.0,502.0 L1404.0,499.1 L1407.0,496.2 L1410.0,493.2 L1413.0,490.0 L1416.0,486.8 L1419.0,483.5 L1422.0,480.2 L1425.0,476.7 L1428.0,473.2 L1431.0,469.6 L1434.0,465.9 L1437.0,462.2 L1440.0,458.3 L1443.0,454.4 L1446.0,450.4 L1449.0,446.3 L1452.0,442.1 L1455.0,437.8 L1458.0,433.4 L1461.0,428.8 L1464.0,424.2 L1467.0,419.4 L1470.0,414.6 L1473.0,409.5 L1476.0,404.4 L1479.0,399.2 L1482.0,393.8 L1485.0,388.3 L1488.0,382.6 L1491.0,376.7 L1494.0,370.6 L1497.0,364.2 L1500.0,357.7 L1503.0,351.0 L1506.0,344.1 L1509.0,337.1 L1512.0,330.0 L1515.0,322.9 L1518.0,315.6 L1521.0,308.1 L1524.0,300.5 L1527.0,292.7 L1530.0,284.7 L1533.0,276.6 L1536.0,268.3 L1539.0,259.8 L1542.0,251.1 L1545.0,242.3 L1548.0,233.3 L1551.0,224.1 L1554.0,214.7 L1557.0,205.2 L1560.0,195.5 L1563.0,185.5 L1566.0,175.4 L1569.0,165.0 L1572.0,154.3 L1575.0,143.4 L1578.0,132.2 L1581.0,120.7 L1584.0,108.9 L1587.0,96.9 L1590.0,84.5 L1593.0,71.9 L1596.0,58.9 L1599.0,45.6 L1602.0,32.0 L1605.0,18.0 L1608.0,3.7 L1611.0,-11.0 L1614.0,-26.0 L1617.0,-41.4 L1620.0,-57.2 L1623.0,-73.4 L1626.0,-90.0" stroke="#007d00" stroke-width="14.8" fill="none" stroke-linejoin="round" clip-path="url(#cp)"/>
<path d="M258.0,726.1 L261.0,726.0 L264.0,725.9 L267.0,725.9 L270.0,725.8 L273.0,725.7 L276.0,725.6 L279.0,725.6 L282.0,725.5 L285.0,725.4 L288.0,725.4 L291.0,725.3 L294.0,725.2 L297.0,725.1 L300.0,725.1 L303.0,725.0 L306.0,724.9 L309.0,724.8 L312.0,724.7 L315.0,724.7 L318.0,724.6 L321.0,724.5 L324.0,724.4 L327.0,724.3 L330.0,724.3 L333.0,724.2 L336.0,724.1 L339.0,724.0 L342.0,723.9 L345.0,723.9 L348.0,723.8 L351.0,723.7 L354.0,723.6 L357.0,723.5 L360.0,723.4 L363.0,723.3 L366.0,723.3 L369.0,723.2 L372.0,723.1 L375.0,723.0 L378.0,722.9 L381.0,722.8 L384.0,722.7 L387.0,722.6 L390.0,722.5 L393.0,722.4 L396.0,722.3 L399.0,722.2 L402.0,722.2 L405.0,722.1 L408.0,722.0 L411.0,721.9 L414.0,721.8 L417.0,721.7 L420.0,721.6 L423.0,721.5 L426.0,721.4 L429.0,721.3 L432.0,721.2 L435.0,721.1 L438.0,721.0 L441.0,720.9 L444.0,720.8 L447.0,720.7 L450.0,720.5 L453.0,720.4 L456.0,720.3 L459.0,720.2 L462.0,720.1 L465.0,720.0 L468.0,719.9 L471.0,719.8 L474.0,719.7 L477.0,719.6 L480.0,719.5 L483.0,719.3 L486.0,719.2 L489.0,719.1 L492.0,719.0 L495.0,718.9 L498.0,718.8 L501.0,718.6 L504.0,718.5 L507.0,718.4 L510.0,718.3 L513.0,718.2 L516.0,718.0 L519.0,717.9 L522.0,717.8 L525.0,717.7 L528.0,717.5 L531.0,717.4 L534.0,717.3 L537.0,717.2 L540.0,717.0 L543.0,716.9 L546.0,716.8 L549.0,716.6 L552.0,716.5 L555.0,716.4 L558.0,716.2 L561.0,716.1 L564.0,716.0 L567.0,715.8 L570.0,715.7 L573.0,715.6 L576.0,715.4 L579.0,715.3 L582.0,715.1 L585.0,715.0 L588.0,714.9 L591.0,714.7 L594.0,714.6 L597.0,714.4 L600.0,714.3 L603.0,714.1 L606.0,714.0 L609.0,713.8 L612.0,713.7 L615.0,713.5 L618.0,713.4 L621.0,713.2 L624.0,713.1 L627.0,712.9 L630.0,712.8 L633.0,712.6 L636.0,712.4 L639.0,712.3 L642.0,712.1 L645.0,712.0 L648.0,711.8 L651.0,711.6 L654.0,711.5 L657.0,711.3 L660.0,711.1 L663.0,711.0 L666.0,710.8 L669.0,710.6 L672.0,710.4 L675.0,710.3 L678.0,710.1 L681.0,709.9 L684.0,709.7 L687.0,709.6 L690.0,709.4 L693.0,709.2 L696.0,709.0 L699.0,708.8 L702.0,708.6 L705.0,708.5 L708.0,708.3 L711.0,708.1 L714.0,707.9 L717.0,707.7 L720.0,707.5 L723.0,707.3 L726.0,707.1 L729.0,706.9 L732.0,706.7 L735.0,706.5 L738.0,706.3 L741.0,706.1 L744.0,705.9 L747.0,705.7 L750.0,705.5 L753.0,705.3 L756.0,705.1 L759.0,704.9 L762.0,704.7 L765.0,704.4 L768.0,704.2 L771.0,704.0 L774.0,703.8 L777.0,703.6 L780.0,703.4 L783.0,703.1 L786.0,702.9 L789.0,702.7 L792.0,702.5 L795.0,702.2 L798.0,702.0 L801.0,701.8 L804.0,701.5 L807.0,701.3 L810.0,701.0 L813.0,700.8 L816.0,700.6 L819.0,700.3 L822.0,700.1 L825.0,699.8 L828.0,699.6 L831.0,699.3 L834.0,699.1 L837.0,698.8 L840.0,698.6 L843.0,698.3 L846.0,698.0 L849.0,697.8 L852.0,697.5 L855.0,697.2 L858.0,697.0 L861.0,696.7 L864.0,696.4 L867.0,696.2 L870.0,695.9 L873.0,695.6 L876.0,695.3 L879.0,695.0 L882.0,694.7 L885.0,694.5 L888.0,694.2 L891.0,693.9 L894.0,693.6 L897.0,693.3 L900.0,693.0 L903.0,692.7 L906.0,692.4 L909.0,692.1 L912.0,691.8 L915.0,691.4 L918.0,691.1 L921.0,690.8 L924.0,690.5 L927.0,690.2 L930.0,689.8 L933.0,689.5 L936.0,689.2 L939.0,688.9 L942.0,688.5 L945.0,688.2 L948.0,687.8 L951.0,687.5 L954.0,687.1 L957.0,686.8 L960.0,686.4 L963.0,686.1 L966.0,685.7 L969.0,685.4 L972.0,685.0 L975.0,684.6 L978.0,684.3 L981.0,683.9 L984.0,683.5 L987.0,683.1 L990.0,682.7 L993.0,682.3 L996.0,681.9 L999.0,681.5 L1002.0,681.1 L1005.0,680.7 L1008.0,680.3 L1011.0,679.9 L1014.0,679.5 L1017.0,679.1 L1020.0,678.7 L1023.0,678.2 L1026.0,677.8 L1029.0,677.4 L1032.0,676.9 L1035.0,676.5 L1038.0,676.0 L1041.0,675.6 L1044.0,675.1 L1047.0,674.7 L1050.0,674.2 L1053.0,673.7 L1056.0,673.2 L1059.0,672.8 L1062.0,672.3 L1065.0,671.8 L1068.0,671.3 L1071.0,670.8 L1074.0,670.3 L1077.0,669.8 L1080.0,669.2 L1083.0,668.7 L1086.0,668.2 L1089.0,667.6 L1092.0,667.1 L1095.0,666.6 L1098.0,666.0 L1101.0,665.4 L1104.0,664.9 L1107.0,664.3 L1110.0,663.7 L1113.0,663.1 L1116.0,662.6 L1119.0,662.0 L1122.0,661.4 L1125.0,660.8 L1128.0,660.2 L1131.0,659.6 L1134.0,659.0 L1137.0,658.4 L1140.0,657.8 L1143.0,657.2 L1146.0,656.6 L1149.0,656.0 L1152.0,655.4 L1155.0,654.8 L1158.0,654.2 L1161.0,653.5 L1164.0,652.9 L1167.0,652.3 L1170.0,651.6 L1173.0,650.9 L1176.0,650.3 L1179.0,649.6 L1182.0,648.9 L1185.0,648.2 L1188.0,647.5 L1191.0,646.8 L1194.0,646.1 L1197.0,645.4 L1200.0,644.6 L1203.0,643.9 L1206.0,643.1 L1209.0,642.4 L1212.0,641.6 L1215.0,640.9 L1218.0,640.2 L1221.0,639.4 L1224.0,638.7 L1227.0,637.9 L1230.0,637.1 L1233.0,636.3 L1236.0,635.5 L1239.0,634.7 L1242.0,633.9 L1245.0,633.0 L1248.0,632.1 L1251.0,631.2 L1254.0,630.3 L1257.0,629.4 L1260.0,628.5 L1263.0,627.6 L1266.0,626.6 L1269.0,625.7 L1272.0,624.7 L1275.0,623.7 L1278.0,622.7 L1281.0,621.6 L1284.0,620.5 L1287.0,619.3 L1290.0,618.1 L1293.0,616.8 L1296.0,615.5 L1299.0,614.1 L1302.0,612.7 L1305.0,611.2 L1308.0,609.7 L1311.0,608.2 L1314.0,606.7 L1317.0,605.1 L1320.0,603.5 L1323.0,601.9 L1326.0,600.2 L1329.0,598.5 L1332.0,596.8 L1335.0,595.0 L1338.0,593.2 L1341.0,591.4 L1344.0,589.6 L1347.0,587.6 L1350.0,585.6 L1353.0,583.6 L1356.0,581.5 L1359.0,579.4 L1362.0,577.2 L1365.0,575.0 L1368.0,572.7 L1371.0,570.4 L1374.0,568.0 L1377.0,565.6 L1380.0,563.1 L1383.0,560.6 L1386.0,558.0 L1389.0,555.4 L1392.0,552.7 L1395.0,550.0 L1398.0,547.3 L1401.0,544.5 L1404.0,541.6 L1407.0,538.7 L1410.0,535.8 L1413.0,532.7 L1416.0,529.7 L1419.0,526.5 L1422.0,523.3 L1425.0,520.0 L1428.0,516.7 L1431.0,513.3 L1434.0,509.8 L1437.0,506.2 L1440.0,502.6 L1443.0,498.9 L1446.0,495.1 L1449.0,491.2 L1452.0,487.3 L1455.0,483.2 L1458.0,479.1 L1461.0,474.8 L1464.0,470.5 L1467.0,466.1 L1470.0,461.6 L1473.0,457.0 L1476.0,452.3 L1479.0,447.4 L1482.0,442.5 L1485.0,437.5 L1488.0,432.3 L1491.0,427.1 L1494.0,421.7 L1497.0,416.2 L1500.0,410.6 L1503.0,404.8 L1506.0,399.0 L1509.0,393.0 L1512.0,386.8 L1515.0,380.5 L1518.0,374.1 L1521.0,367.5 L1524.0,360.8 L1527.0,353.9 L1530.0,346.9 L1533.0,339.6 L1536.0,332.2 L1539.0,324.6 L1542.0,316.9 L1545.0,308.9 L1548.0,300.8 L1551.0,292.4 L1554.0,283.8 L1557.0,274.9 L1560.0,265.9 L1563.0,256.6 L1566.0,247.1 L1569.0,237.4 L1572.0,227.5 L1575.0,217.3 L1578.0,206.9 L1581.0,196.3 L1584.0,185.4 L1587.0,174.3 L1590.0,163.0 L1593.0,151.4 L1596.0,139.5 L1599.0,127.3 L1602.0,114.8 L1605.0,102.0 L1608.0,88.9 L1611.0,75.5 L1614.0,61.7 L1617.0,47.6 L1620.0,33.1 L1623.0,18.3 L1626.0,3.0 L1629.0,-12.6 L1632.0,-28.6 L1635.0,-45.0 L1638.0,-61.8 L1641.0,-79.0" stroke="#007d00" stroke-width="14.8" fill="none" stroke-linejoin="round" clip-path="url(#cp)"/>
<path d="M1540.0,289.5 L1542.0,284.0 L1544.0,278.4 L1546.0,272.8 L1548.0,267.0 L1550.0,261.2 L1552.0,255.2 L1554.0,249.2 L1556.0,243.1 L1558.0,236.9 L1560.0,230.7 L1562.0,224.3 L1564.0,217.8 L1566.0,211.2 L1568.0,204.6 L1570.0,197.8 L1572.0,190.9 L1574.0,183.9 L1576.0,176.7 L1578.0,169.5 L1580.0,162.2 L1582.0,154.7" stroke="#22b022" stroke-width="2" fill="none" opacity="0.7" clip-path="url(#cp)"/>
<g font-family="Liberation Sans, sans-serif" font-weight="bold" fill="#000">
<text x="129.54" y="1168.5" font-size="64">0.2</text>
<text x="129.54" y="959.9" font-size="64">0.4</text>
<text x="129.54" y="751.3" font-size="64">0.6</text>
<text x="129.54" y="542.7" font-size="64">0.8</text>
<use href="#g1" transform="translate(129.54,334.1) scale(0.03125,-0.03125)"/>
<text x="165.12" y="334.1" font-size="64">.0</text>
<use href="#g1" transform="translate(129.54,125.5) scale(0.03125,-0.03125)"/>
<text x="165.12" y="125.5" font-size="64">.2</text>
<use href="#g1" transform="translate(347.50,1257.5) scale(0.03125,-0.03125)"/>
<text x="383.08" y="1257.5" font-size="64">0</text>
<text x="418.50" y="1222.3" font-size="37">-4</text>
<use href="#g1" transform="translate(797.50,1257.5) scale(0.03125,-0.03125)"/>
<text x="833.08" y="1257.5" font-size="64">0</text>
<text x="868.50" y="1222.3" font-size="37">-3</text>
<use href="#g1" transform="translate(1247.50,1257.5) scale(0.03125,-0.03125)"/>
<text x="1283.08" y="1257.5" font-size="64">0</text>
<text x="1318.50" y="1222.3" font-size="37">-2</text>
<use href="#g1" transform="translate(1697.50,1257.5) scale(0.03125,-0.03125)"/>
<text x="1733.08" y="1257.5" font-size="64">0</text>
<text x="1768.50" y="1222.3" font-size="37">-</text>
<use href="#g1" transform="translate(1780.82,1222.3) scale(0.01807,-0.01807)"/>
<text x="1068.3" y="1305" font-size="70" text-anchor="middle">x</text>
<g transform="translate(73.5,692.7) rotate(-90)">
<text x="-3" y="0" font-size="69">d</text>
<text x="37.5" y="0" font-size="66" stroke="#000" stroke-width="1.3" font-family="Liberation Serif, serif" font-weight="normal">Δ</text>
<text transform="translate(76.5,0.5) scale(1.1,1)" font-size="61" font-family="Liberation Sans, sans-serif" font-weight="normal" stroke="#000" stroke-width="0.6">σ</text>
<text x="120.5" y="27.3" font-size="39">r</text>
<text x="136.5" y="-39" font-size="42">A</text>
<text x="167" y="0" font-size="69">/</text>
<text x="189" y="0" font-size="69">A</text>
<text x="239.5" y="0" font-size="69">d</text>
<text x="281.5" y="0" font-size="66" stroke="#000" stroke-width="1.3" font-family="Liberation Serif, serif" font-weight="normal">Δ</text>
<text transform="translate(322.5,0.5) scale(1.1,1)" font-size="61" font-family="Liberation Sans, sans-serif" font-weight="normal" stroke="#000" stroke-width="0.6">σ</text>
<text x="363.5" y="27.3" font-size="39">r</text>
</g>
<rect x="320.4" y="58.1" width="384.3" height="152.4" fill="#fafafa" stroke="#000" stroke-width="3"/>
<path d="M342,103.8 H488" stroke="#00f4f4" stroke-width="14" stroke-dasharray="61 53.6" fill="none"/>
<path d="M342,176.8 H488" stroke="#00e600" stroke-width="14" stroke-dasharray="61 53.6" fill="none"/>
<text x="511.00" y="124.4" font-size="57">Pb-208</text>
<text x="511.00" y="197.0" font-size="57">C-</text>
<use href="#g1" transform="translate(571.13,197.0) scale(0.02783,-0.02783)"/>
<text x="602.83" y="197.0" font-size="57">2</text>
</g>
</svg>
</body></html>
